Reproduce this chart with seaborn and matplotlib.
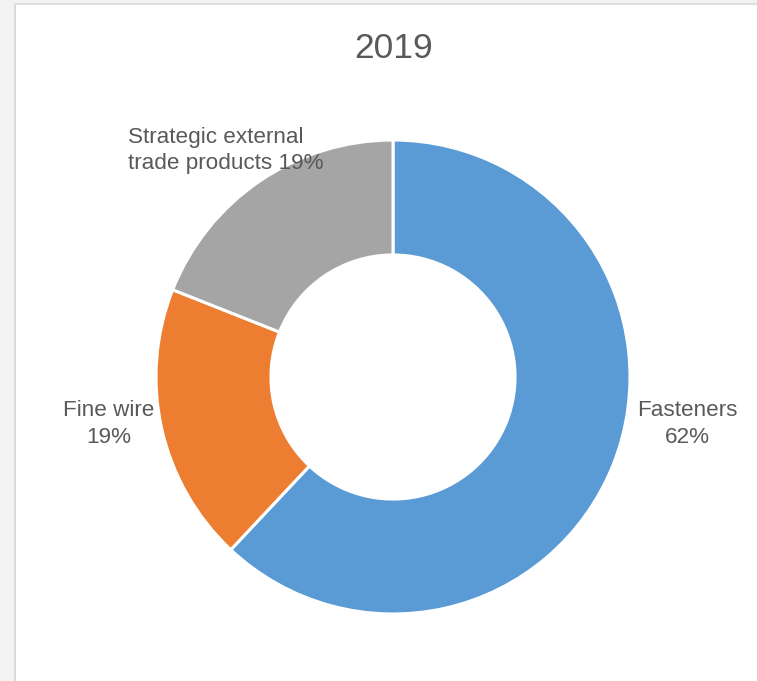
import matplotlib
matplotlib.use("Agg")
import matplotlib.pyplot as plt
from matplotlib.patches import Rectangle
import seaborn as sns

categories = ["Fasteners", "Fine wire", "Strategic external\ntrade products"]
shares = [62, 19, 19]
colors = ["#5B9BD5", "#ED7D31", "#A5A5A5"]
title = "2019"

sns.set_theme(style="white")
plt.rcParams["font.family"] = ["Liberation Sans", "DejaVu Sans"]

W, H = 757, 681
fig = plt.figure(figsize=(W / 100, H / 100), dpi=100)
fig.patch.set_facecolor("white")

# page frame (light gray strip at left and top)
fig.add_artist(Rectangle((0, 0), 14 / W, 1, transform=fig.transFigure,
                         facecolor="#f3f3f3", edgecolor="none", zorder=0))
fig.add_artist(Rectangle((0, 1 - 3 / H), 1, 3 / H, transform=fig.transFigure,
                         facecolor="#f3f3f3", edgecolor="none", zorder=0))
fig.add_artist(Rectangle((14 / W, 0), 2 / W, 1 - 3 / H, transform=fig.transFigure,
                         facecolor="#d9d9d9", edgecolor="none", zorder=1))
fig.add_artist(Rectangle((14 / W, 1 - 5 / H), 1 - 14 / W, 2 / H, transform=fig.transFigure,
                         facecolor="#dedede", edgecolor="none", zorder=1))

cx, cy, R = 393, 377, 237
side = 500
ax = fig.add_axes([(cx - side / 2) / W, (H - cy - side / 2) / H, side / W, side / H])
palette = sns.color_palette(colors)
ax.pie(shares, colors=palette, startangle=90, counterclock=False, radius=1,
       wedgeprops=dict(width=0.485, edgecolor="white", linewidth=2.2))
lim = side / 2 / R
ax.set_xlim(-lim, lim)
ax.set_ylim(-lim, lim)
ax.set_aspect("equal")
ax.axis("off")

txt = "#595959"
fig.text(394 / W, 1 - 58 / H, title, ha="center", va="baseline", fontsize=25.5, color=txt)

fs = 16.2
lbl = [f"{c}\n{s}%" if i < 2 else f"{c} {s}%" for i, (c, s) in enumerate(zip(categories, shares))]
fig.text(687 / W, 1 - 443 / H, lbl[0], ha="center", va="baseline", fontsize=fs,
         color=txt, linespacing=1.38, multialignment="center")
fig.text(109 / W, 1 - 443 / H, lbl[1], ha="center", va="baseline", fontsize=fs,
         color=txt, linespacing=1.38, multialignment="center")
fig.text(128 / W, 1 - 169 / H, lbl[2], ha="left", va="baseline", fontsize=fs,
         color=txt, linespacing=1.3)

fig.savefig("out.png", dpi=100, facecolor="white")
